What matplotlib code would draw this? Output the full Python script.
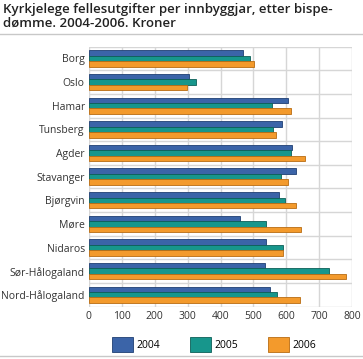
import numpy as np
import matplotlib
matplotlib.use('Agg')
import matplotlib.pyplot as plt
from matplotlib.patches import Patch
from matplotlib.lines import Line2D

plt.rcParams['font.family'] = ['Open Sans', 'DejaVu Sans']

# data
categories = ['Borg', 'Oslo', 'Hamar', 'Tunsberg', 'Agder', 'Stavanger',
              'Bjørgvin', 'Møre', 'Nidaros', 'Sør-Hålogaland', 'Nord-Hålogaland']
v2004 = [467, 303, 606, 587, 618, 630, 577, 458, 538, 535, 550]
v2005 = [490, 324, 558, 560, 615, 584, 596, 538, 589, 730, 572]
v2006 = [501, 297, 615, 569, 658, 605, 629, 644, 591, 782, 643]
years = ['2004', '2005', '2006']
xticks = [0, 100, 200, 300, 400, 500, 600, 700, 800]

colors = ['#3b64a8', '#17968c', '#f39a2c']
edges = ['#1f3f73', '#0d5f58', '#b86c12']

fig = plt.figure(figsize=(3.63, 3.59), dpi=100)
ax = fig.add_axes([0.245, 0.146, 0.725, 0.724])

y = np.arange(len(categories))
h = 0.23
for i, (vals, c, ec) in enumerate(zip([v2004, v2005, v2006], colors, edges)):
    ax.barh(y + (i - 1) * h, vals, height=h, color=c, edgecolor=ec,
            linewidth=0.6, label=years[i], zorder=3)

ax.set_xlim(0, 800)
ax.set_ylim(len(categories) - 0.5, -0.5)
ax.set_xticks(xticks)
ax.set_xticklabels([str(t) for t in xticks], fontsize=7.5, color='#333333')
ax.set_yticks(y)
ax.set_yticklabels(categories, fontsize=7.5, color='#333333')
ax.tick_params(length=0, pad=3)

# grid: vertical at ticks, horizontal between categories
for t in xticks:
    ax.axvline(t, color='#d6d6d6', lw=1, zorder=1)
for b in np.arange(len(categories) + 1) - 0.5:
    ax.axhline(b, color='#d6d6d6', lw=1, zorder=1)
for s in ax.spines.values():
    s.set_visible(False)

fig.text(0.008, 0.992, 'Kyrkjelege fellesutgifter per innbyggjar, etter bispe-\ndømme. 2004-2006. Kroner',
         ha='left', va='top', fontsize=9.5, fontweight='semibold', color='#222222',
         linespacing=1.12)
fig.add_artist(Line2D([0.0, 1.0], [0.905, 0.905], color='#c8c8c8', lw=1))
fig.add_artist(Line2D([0.0, 1.0], [0.008, 0.008], color='#c8c8c8', lw=1))

handles = [Patch(facecolor=c, edgecolor=ec, linewidth=0.6) for c, ec in zip(colors, edges)]
fig.legend(handles, years, loc='center', bbox_to_anchor=(0.59, 0.04), ncol=3,
           frameon=False, fontsize=7.5, handlelength=2.0, handleheight=1.9,
           handletextpad=0.3, columnspacing=2.9)

plt.savefig('out.png', dpi=100)
